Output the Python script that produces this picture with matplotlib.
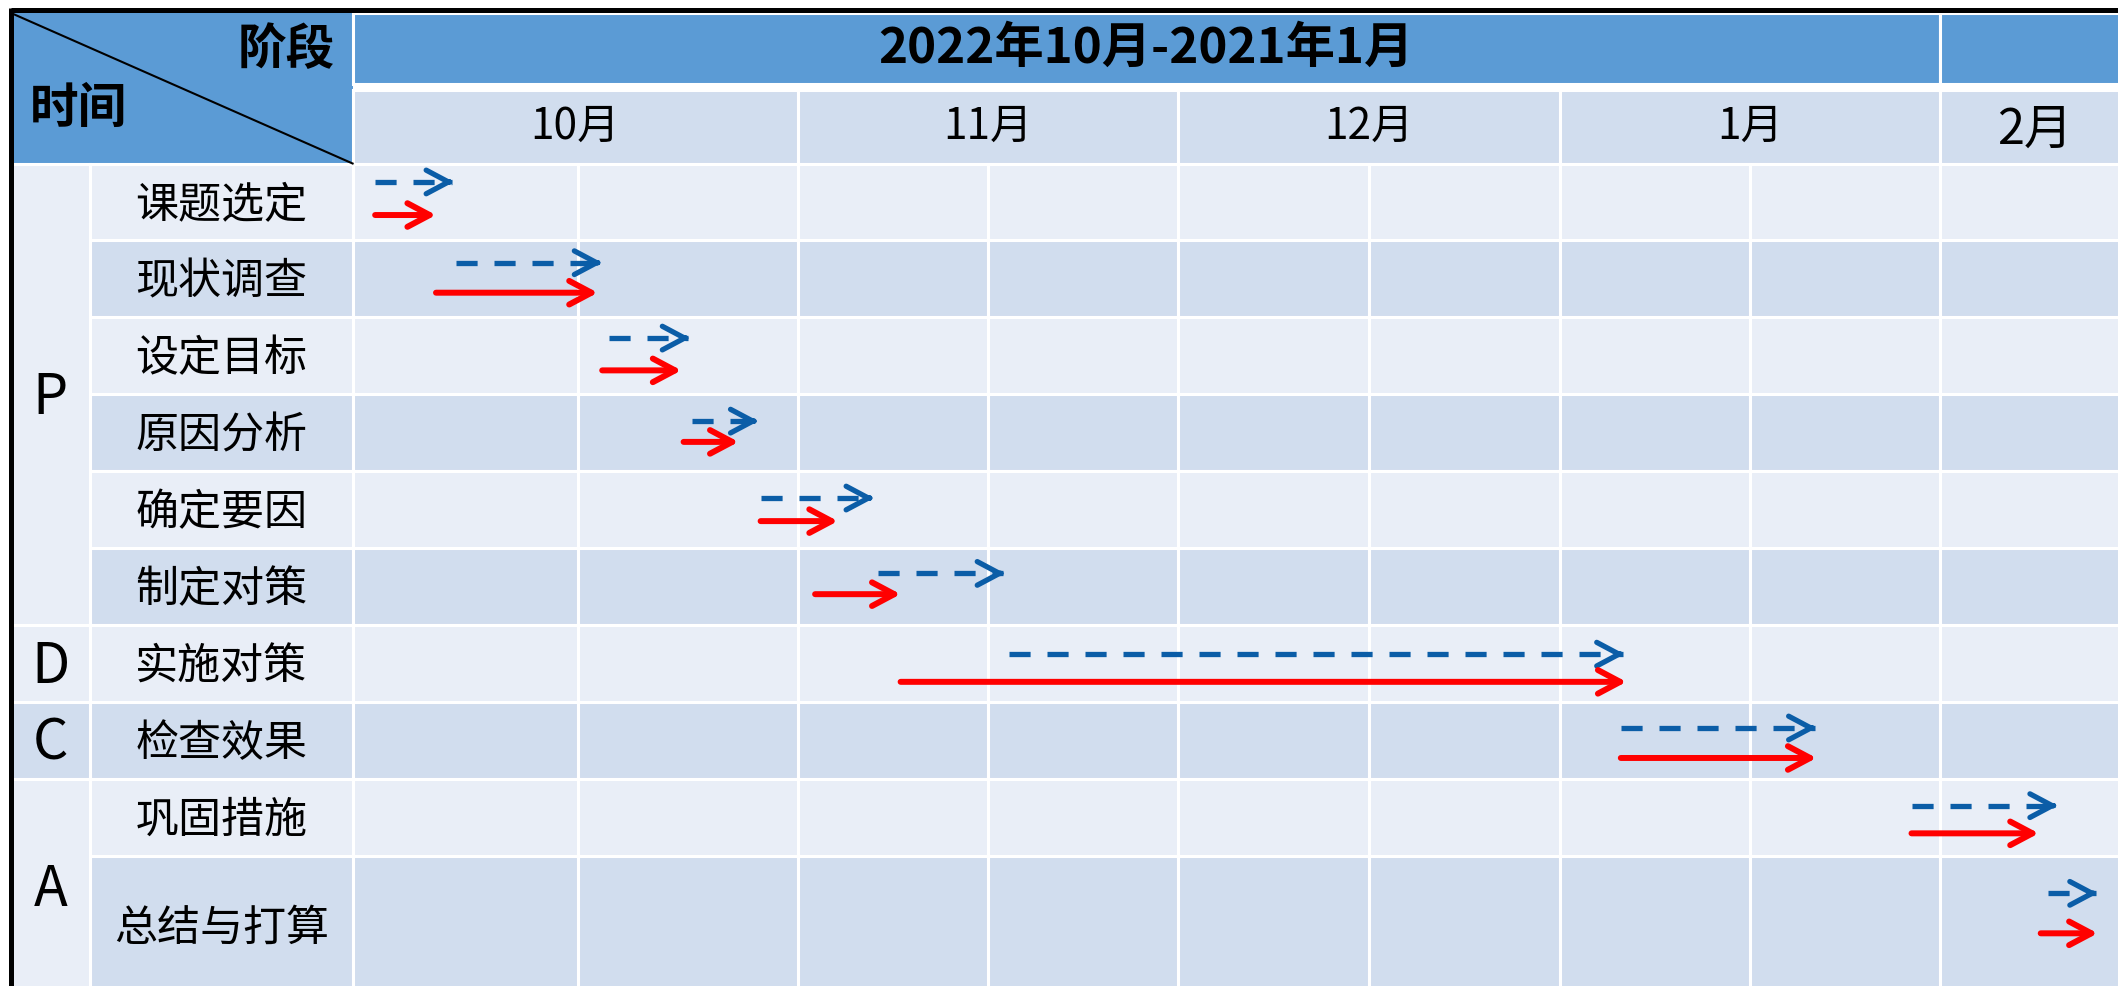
import matplotlib

matplotlib.use("Agg")
import matplotlib.pyplot as plt
import numpy as np
from matplotlib.patches import ArrowStyle, FancyArrowPatch, Rectangle

plt.rcParams["font.family"] = ["Noto Sans CJK SC", "DejaVu Sans"]

# ---- data ----------------------------------------------------------------
title = "2022年10月-2021年1月"
corner_top = "阶段"
corner_left = "时间"
months = ["10月", "11月", "12月", "1月", "2月"]
month_cols = [(0, 2), (2, 4), (4, 6), (6, 8), (8, 9)]  # half-month columns
phases = ["P", "D", "C", "A"]
phase_rows = [(0, 6), (6, 7), (7, 8), (8, 10)]
tasks = ["课题选定", "现状调查", "设定目标", "原因分析", "确定要因",
         "制定对策", "实施对策", "检查效果", "巩固措施", "总结与打算"]
# plan (blue dashed) and actual (red) spans, in half-month columns from 1 Oct
plan_start = [0.10, 0.46, 1.14, 1.52, 1.83, 2.42, 3.11, 6.32, 7.85, 8.57]
plan_end = [0.45, 1.11, 1.51, 1.82, 2.40, 3.09, 6.34, 7.35, 8.62, 8.83]
actual_start = [0.10, 0.37, 1.11, 1.48, 1.83, 2.09, 2.54, 6.32, 7.85, 8.53]
actual_end = [0.37, 1.09, 1.47, 1.73, 2.21, 2.54, 6.35, 7.35, 8.52, 8.83]

# ---- layout --------------------------------------------------------------
HEADER = "#5B9BD5"
BAND_LIGHT = "#E9EEF7"
BAND_DARK = "#D1DDEE"
BLUE = "#0B5DA7"
RED = "#FF0000"

# column edges: -2 phase col, -1 task col, 0..9 half-month columns
col_units = [-3, -2, -1, 0, 1, 2, 3, 4, 5, 6, 7, 8, 9, 10]
col_px = [-68, 11, 90, 352.6, 578, 798, 988, 1178, 1369, 1560, 1750, 1940, 2130, 2320]
row_heights = [1] * 9 + [1.8]
plan_dy = [0.24, 0.29, 0.27, 0.35, 0.35, 0.33, 0.38, 0.34, 0.35, 0.49]
actual_dy = [0.67, 0.68, 0.69, 0.62, 0.65, 0.60, 0.74, 0.73, 0.71, 1.01]
month_fontsize = [30.5, 30.5, 30.5, 30.5, 35]
month_dy = [0, 0, 0, 0, 0.04]
text_dy = 0.05


def forward(x):
    return np.interp(x, col_units, col_px)


def inverse(p):
    return np.interp(p, col_px, col_units)


fig = plt.figure(figsize=(21.18, 9.86), dpi=100)
ax = fig.add_axes([0, 0, 1, 1])
ax.set_xscale("function", functions=(forward, inverse))
ax.set_xlim(inverse(0), inverse(2118))
ax.set_ylim(10.695, -2.126)
ax.axis("off")

r_top, r_band_bot, r_month_top = -1.957, -1.04, -0.956
grid = dict(edgecolor="white", linewidth=2.2)

# header
ax.add_patch(Rectangle((-2, r_top), 2, -r_top, facecolor=HEADER, edgecolor="none"))
ax.plot([-2, 0], [r_top, 0], color="black", lw=1.5, zorder=3)
ax.add_patch(Rectangle((0, r_top), 8, r_band_bot - r_top, facecolor=HEADER, **grid))
ax.add_patch(Rectangle((8, r_top), 2, r_band_bot - r_top, facecolor=HEADER, **grid))
for (c0, c1) in month_cols:
    ax.add_patch(Rectangle((c0, r_month_top), c1 - c0, -r_month_top, facecolor=BAND_DARK, **grid))

# body
row_tops = np.concatenate([[0], np.cumsum(row_heights)])
for i in range(len(tasks)):
    color = BAND_LIGHT if i % 2 == 0 else BAND_DARK
    for c in range(-1, 10):
        ax.add_patch(Rectangle((c, row_tops[i]), 1, row_heights[i], facecolor=color, **grid))
for (r0, r1) in phase_rows:
    color = BAND_LIGHT if r0 % 2 == 0 else BAND_DARK
    ax.add_patch(Rectangle((-2, row_tops[r0]), 1, row_tops[r1] - row_tops[r0], facecolor=color, **grid))

# outer border
ax.plot([-2.006, 10], [-1.99, -1.99], color="black", lw=3.6, zorder=4, solid_capstyle="butt")
ax.plot([-2.006, -2.006], [-2.02, 11], color="black", lw=3.6, zorder=4, solid_capstyle="butt")

# texts
ax.text(-0.254, -1.476, corner_top, fontsize=35, fontweight="bold", ha="center", va="center")
ax.text(-1.15, -0.72, corner_left, fontsize=35, fontweight="bold", ha="center", va="center")
ax.text(inverse((forward(0) + forward(8)) / 2), (r_top + r_band_bot) / 2, title,
        fontsize=35.5, fontweight="bold", ha="center", va="center")
for label, (c0, c1), fs, dy in zip(months, month_cols, month_fontsize, month_dy):
    xc = inverse((forward(c0) + forward(c1)) / 2)
    ax.text(xc, r_month_top / 2 + dy, label, fontsize=fs, ha="center", va="center")
for i, label in enumerate(tasks):
    ax.text(-0.5, row_tops[i] + row_heights[i] / 2 + text_dy, label, fontsize=31,
            ha="center", va="center")
for label, (r0, r1) in zip(phases, phase_rows):
    ax.text(-1.5, (row_tops[r0] + row_tops[r1]) / 2 + text_dy, label, fontsize=40,
            ha="center", va="center")

# arrows
head = ArrowStyle("->", head_length=16, head_width=8.5)
for i in range(len(tasks)):
    yb = row_tops[i] + plan_dy[i]
    ax.plot([plan_start[i], plan_end[i] - 0.01], [yb, yb], color=BLUE, lw=3.8,
            linestyle=(0, (4.0, 3.2)), dash_capstyle="butt", zorder=5)
    ax.add_patch(FancyArrowPatch((plan_end[i] - 0.03, yb), (plan_end[i], yb), arrowstyle=head,
                                 color=BLUE, lw=3.8, shrinkA=0, shrinkB=0,
                                 capstyle="round", joinstyle="round", zorder=5))
    yr = row_tops[i] + actual_dy[i]
    ax.add_patch(FancyArrowPatch((actual_start[i], yr), (actual_end[i], yr), arrowstyle=head,
                                 color=RED, lw=4.3, shrinkA=0, shrinkB=0,
                                 capstyle="round", joinstyle="round", zorder=5))

fig.savefig("out.png", dpi=100)
